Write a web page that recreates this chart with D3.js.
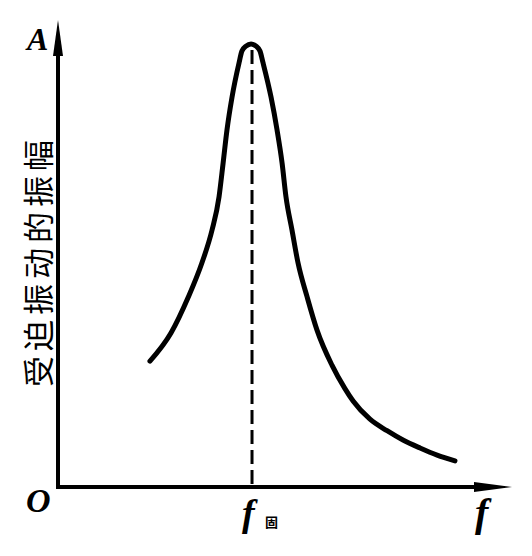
<!DOCTYPE html>
<html>
<head>
<meta charset="utf-8">
<script src="https://cdn.jsdelivr.net/npm/d3@7"></script>
<style>
body{margin:0;background:#fff;}
svg{display:block;}
</style>
</head>
<body>
<svg id="chart"></svg>
<script>
var width = 532, height = 556;

// frequency in units of f_gu, amplitude relative to peak
var freq = [0.474, 0.583, 0.670, 0.742, 0.794, 0.830, 0.851, 0.871, 0.897, 0.933, 0.948, 0.969, 0.995, 1.021, 1.041, 1.057, 1.098, 1.129, 1.155, 1.175, 1.206, 1.237, 1.284, 1.335, 1.412, 1.479, 1.521, 1.608, 1.696, 1.778, 1.866, 1.954, 2.046];
var amp  = [0.284, 0.348, 0.427, 0.506, 0.580, 0.655, 0.731, 0.806, 0.880, 0.957, 0.984, 0.995, 1.000, 0.995, 0.984, 0.957, 0.880, 0.806, 0.731, 0.655, 0.580, 0.506, 0.429, 0.354, 0.275, 0.222, 0.194, 0.153, 0.127, 0.106, 0.088, 0.072, 0.059];
var f0 = 1.0;
var yLabel = '受迫振动的振幅';

var x = d3.scaleLinear().domain([0, 2.34]).range([58, 512]);
var y = d3.scaleLinear().domain([0, 1.054]).range([487, 20]);

var svg = d3.select('#chart').attr('width', width).attr('height', height);

var pts = freq.map(function(f, i){ return [f, amp[i]]; });

// axes
svg.append('line').attr('x1', x(0)).attr('y1', y(0)).attr('x2', x(0)).attr('y2', y(1.054) + 20)
    .attr('stroke', '#000').attr('stroke-width', 4);
svg.append('line').attr('x1', x(0) - 2).attr('y1', y(0)).attr('x2', x(2.34) - 20).attr('y2', y(0))
    .attr('stroke', '#000').attr('stroke-width', 4);
// arrow heads
svg.append('path').attr('d', 'M' + x(0) + ',' + y(1.054) + 'L' + (x(0) + 5) + ',' + (y(1.054) + 36) + 'L' + (x(0) - 5) + ',' + (y(1.054) + 36) + 'Z')
    .attr('fill', '#000');
svg.append('path').attr('d', 'M' + x(2.34) + ',' + y(0) + 'L' + (x(2.34) - 38) + ',' + (y(0) - 5) + 'L' + (x(2.34) - 38) + ',' + (y(0) + 5) + 'Z')
    .attr('fill', '#000');

// dashed line at resonance
svg.append('line').attr('x1', x(f0)).attr('y1', y(1) + 6).attr('x2', x(f0)).attr('y2', y(0))
    .attr('stroke', '#000').attr('stroke-width', 3).attr('stroke-dasharray', '14,6');

// resonance curve
svg.append('path').datum(pts)
    .attr('d', d3.line().x(function(d){return x(d[0]);}).y(function(d){return y(d[1]);}).curve(d3.curveMonotoneX))
    .attr('fill', 'none').attr('stroke', '#000').attr('stroke-width', 5).attr('stroke-linecap', 'round');

// labels
var serif = '"Liberation Serif", "DejaVu Serif", serif';
svg.append('text').attr('x', 27).attr('y', 50).text('A')
    .attr('font-family', serif).attr('font-style', 'italic').attr('font-weight', 'bold').attr('font-size', 32);
svg.append('text').attr('x', 26).attr('y', 512).text('O')
    .attr('font-family', serif).attr('font-style', 'italic').attr('font-weight', 'bold').attr('font-size', 34);
svg.append('text').attr('x', x(f0) - 10).attr('y', 526).text('f')
    .attr('font-family', serif).attr('font-style', 'italic').attr('font-weight', 'bold').attr('font-size', 38);
svg.append('text').attr('x', x(f0) + 13).attr('y', 527).text('固')
    .attr('font-family', '"Noto Sans CJK SC"').attr('font-weight', 'bold').attr('font-size', 13);
svg.append('text').attr('x', 475).attr('y', 526).text('f')
    .attr('font-family', serif).attr('font-style', 'italic').attr('font-weight', 'bold').attr('font-size', 40);

svg.append('text').attr('transform', 'translate(50,261) rotate(-90)')
    .attr('text-anchor', 'middle').text(yLabel)
    .attr('font-family', '"Noto Sans CJK SC"').attr('font-size', 31).attr('letter-spacing', 5);
</script>
</body>
</html>
